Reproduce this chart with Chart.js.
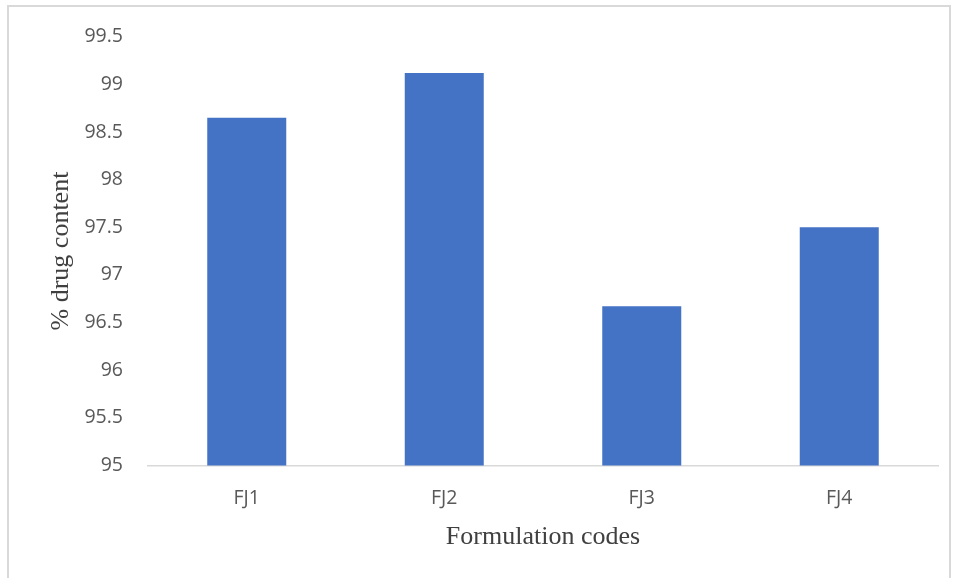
<!DOCTYPE html>
<html>
<head>
<meta charset="utf-8">
<script src="https://cdn.jsdelivr.net/npm/chart.js@4"></script>
<style>
  html, body { margin: 0; padding: 0; background: #ffffff; }
  #wrap { width: 956px; height: 578px; position: relative; }
</style>
</head>
<body>
<div id="wrap"><canvas id="c" width="956" height="578"></canvas></div>
<script>
const categories = ["FJ1", "FJ2", "FJ3", "FJ4"];
const drugContent = [98.65, 99.12, 96.67, 97.50];
const yMin = 95;
const yMax = 99.5;
const yStep = 0.5;

const framePlugin = {
  id: 'frame',
  beforeDraw(chart) {
    const ctx = chart.ctx;
    ctx.save();
    ctx.fillStyle = '#ffffff';
    ctx.fillRect(0, 0, chart.width, chart.height);
    ctx.strokeStyle = '#d9d9d9';
    ctx.lineWidth = 2;
    ctx.strokeRect(8, 6, 942, 590);
    ctx.restore();
  }
};

new Chart(document.getElementById('c'), {
  type: 'bar',
  data: {
    labels: categories,
    datasets: [{
      data: drugContent,
      backgroundColor: '#4472C4',
      borderWidth: 0,
      barPercentage: 0.4,
      categoryPercentage: 1.0
    }]
  },
  options: {
    responsive: false,
    animation: false,
    plugins: { legend: { display: false }, tooltip: { enabled: false } },
    layout: { padding: { left: 46, right: 18, top: 28, bottom: 25 } },
    scales: {
      x: {
        grid: { display: false, drawTicks: false },
        border: { display: true, color: '#d9d9d9', width: 1.5 },
        ticks: { color: '#595959', font: { family: "'Open Sans', 'Noto Sans', sans-serif", size: 19.5 }, padding: 21 },
        title: { display: true, text: 'Formulation codes', color: '#404040',
                 font: { family: "'Liberation Serif', 'Times New Roman', serif", size: 26 }, padding: { top: -9, bottom: 0 } }
      },
      y: {
        min: yMin, max: yMax,
        grid: { display: false, drawTicks: false },
        border: { display: false },
        ticks: { stepSize: yStep, color: '#595959', font: { family: "'Open Sans', 'Noto Sans', sans-serif", size: 19.5 }, padding: 25,
                 callback: (v) => String(Math.round(v * 10) / 10) },
        title: { display: true, text: '% drug content', color: '#404040',
                 font: { family: "'Liberation Serif', 'Times New Roman', serif", size: 26 }, padding: { top: 0, bottom: 0 } },
        afterFit(scale) { scale.width = 148 - 46; }
      }
    }
  },
  plugins: [framePlugin]
});
</script>
</body>
</html>
